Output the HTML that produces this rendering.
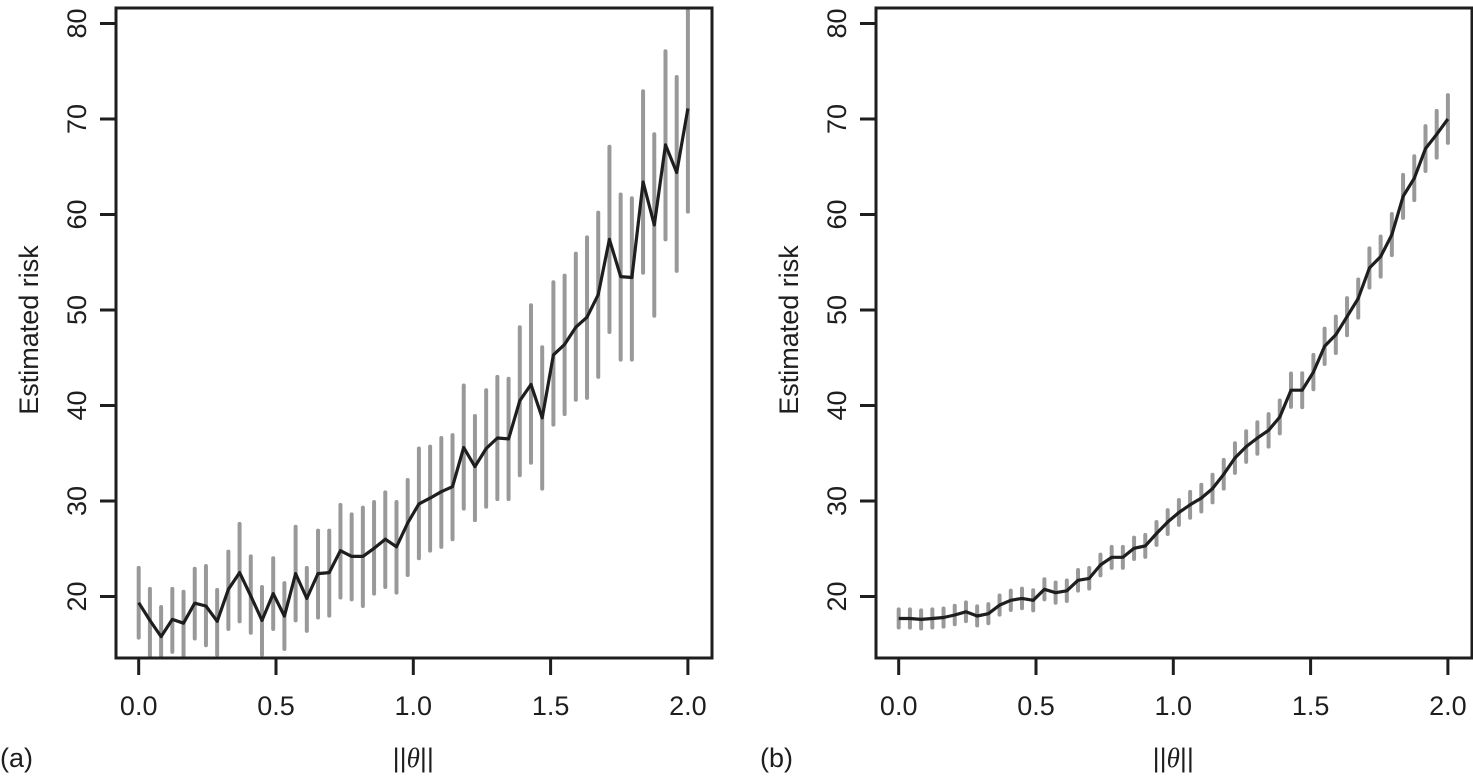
<!DOCTYPE html>
<html><head><meta charset="utf-8"><style>
html,body{margin:0;padding:0;background:#fff;}
svg{display:block;font-family:"Liberation Sans",Arial,sans-serif;}
</style></head><body>
<svg id="chart" width="1473" height="779" viewBox="0 0 1473 779"></svg>
<script>
const xTicks = [0, 0.5, 1.0, 1.5, 2.0];
const xTickLabels = ["0.0", "0.5", "1.0", "1.5", "2.0"];
const yTicks = [20, 30, 40, 50, 60, 70, 80];
const nPoints = 50;
const meanA = [19.35,17.5,15.8,17.6,17.2,19.3,19.0,17.4,20.75,22.5,20.05,17.5,20.3,17.95,22.4,19.8,22.4,22.5,24.8,24.2,24.2,25.05,26.0,25.2,27.7,29.7,30.3,30.97,31.5,35.6,33.6,35.5,36.6,36.5,40.5,42.2,38.7,45.3,46.4,48.2,49.25,51.6,57.4,53.5,53.4,63.4,58.9,67.3,64.4,71.1];
const hiA = [23.0,20.8,18.9,20.8,20.5,22.9,23.2,20.7,24.7,27.6,24.2,21.0,24.0,21.4,27.3,23.0,26.9,26.9,29.6,28.6,29.3,29.9,30.9,29.9,32.2,35.5,35.7,36.6,36.9,42.1,38.9,41.6,43.0,42.8,48.2,50.5,46.1,52.9,53.6,55.9,57.6,60.2,67.1,62.1,61.7,72.9,68.4,77.1,74.4,81.8];
const loA = [15.7,13.7,13.7,14.2,13.8,15.6,14.9,13.9,16.6,17.4,16.2,13.9,16.6,14.5,17.5,16.4,17.8,18.0,19.9,19.7,19.0,20.3,21.0,20.4,22.25,24.0,24.8,25.2,26.0,29.2,28.0,29.4,30.2,30.2,32.7,34.0,31.3,38.0,39.1,40.6,40.8,43.0,47.7,44.8,44.8,53.9,49.4,57.4,54.1,60.3];
const meanB = [17.7,17.7,17.6,17.7,17.8,18.06,18.4,17.96,18.2,19.1,19.6,19.8,19.6,20.75,20.4,20.6,21.7,21.9,23.3,24.1,24.1,25.05,25.3,26.6,27.8,28.8,29.6,30.3,31.3,32.8,34.5,35.7,36.6,37.4,38.8,41.6,41.6,43.5,46.2,47.4,49.3,51.2,54.4,55.6,57.9,61.9,63.8,66.9,68.4,70.0];
const halfB = [0.95,0.95,0.95,0.95,0.95,0.97,0.98,1.0,1.0,1.0,1.02,1.03,1.05,1.05,1.06,1.07,1.08,1.08,1.09,1.1,1.1,1.12,1.15,1.2,1.25,1.3,1.35,1.4,1.45,1.5,1.55,1.6,1.65,1.7,1.72,1.75,1.78,1.8,1.85,1.9,1.95,2.0,2.05,2.1,2.15,2.25,2.3,2.35,2.45,2.5];

const NS = "http://www.w3.org/2000/svg";
const svg = document.getElementById('chart');
function mk(tag, attrs, parent){const e=document.createElementNS(NS,tag);for(const k in attrs)e.setAttribute(k,attrs[k]);(parent||svg).appendChild(e);return e;}

function panel(ox, label, mean, lo, hi, nm){
  const g = mk('g',{});
  
  
  const L = 116+ox, R = 712+ox, T = 8, B = 658;
  const xs = v => 138.7+ox + v*274.6;
  const ys = v => 596.5 - (v-20)*9.55;
  const xOf = i => xs(i*2/(nPoints-1));
  // error bars
  for(let i=0;i<mean.length;i++){
    const top = Math.max(ys(hi[i]), T+2), bot = Math.min(ys(lo[i]), B-2);
    const b = mk('line',{x1:xOf(i),x2:xOf(i),y1:top,y2:bot,stroke:'#999',"stroke-width":4,"stroke-linecap":"round"},g);
    
    
  }
  let d='';
  for(let i=0;i<mean.length;i++) d += (i?'L':'M')+xOf(i).toFixed(1)+','+ys(mean[i]).toFixed(1);
  const p = mk('path',{d:d,fill:'none',stroke:'#1e1e1e',"stroke-width":3.2,"stroke-linejoin":"round"},g);
  
  
  const fr = mk('rect',{x:L,y:T,width:R-L,height:B-T,fill:'none',stroke:'#1e1e1e',"stroke-width":3},g);
  
  
  xTicks.forEach((v,i)=>{
    const t = mk('line',{x1:xs(v),x2:xs(v),y1:B,y2:675,stroke:'#1e1e1e',"stroke-width":3},g);
    
    
    const tx = mk('text',{x:xs(v),y:715,"text-anchor":"middle","font-size":27,fill:'#1e1e1e'},g);
    tx.textContent = xTickLabels[i];
    
    
  });
  yTicks.forEach(v=>{
    const t = mk('line',{x1:L,x2:L-16,y1:ys(v),y2:ys(v),stroke:'#1e1e1e',"stroke-width":3},g);
    
    
    const tx = mk('text',{x:0,y:0,transform:`translate(${86+ox},${ys(v)}) rotate(-90)`,"text-anchor":"middle","font-size":27,fill:'#1e1e1e'},g);
    tx.textContent = v;
    
    
  });
  const yt = mk('text',{x:0,y:0,transform:`translate(${38+ox},330) rotate(-90)`,"text-anchor":"middle","font-size":27,fill:'#1e1e1e'},g);
  yt.textContent = 'Estimated risk';
  
  
  const xt = mk('text',{x:xs(1),y:767,"text-anchor":"middle","font-size":27,fill:'#1e1e1e'},g);
  xt.innerHTML = '||<tspan font-style="italic" font-family="Liberation Serif, serif">θ</tspan>||';
  
  
  const pl = mk('text',{x:ox,y:767,"font-size":27,fill:'#1e1e1e'},g);
  pl.textContent = label;
  
  
}
panel(0, '(a)', meanA, loA, hiA, 'a');
const loB = meanB.map((m,i)=>m-halfB[i]);
const hiB = meanB.map((m,i)=>m+halfB[i]);
panel(760, '(b)', meanB, loB, hiB, 'b');
</script>
</body></html>
